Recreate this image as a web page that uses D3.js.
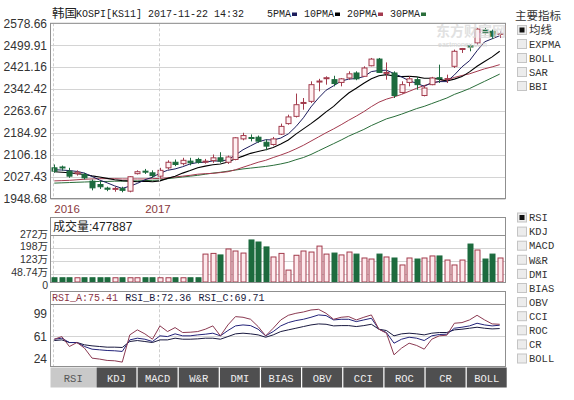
<!DOCTYPE html>
<html lang="zh">
<head>
<meta charset="UTF-8">
<title>韩国KOSPI[KS11]</title>
<script src="https://d3js.org/d3.v7.min.js"></script>
<style>
  body { margin: 0; background: #fff; }
  svg text { font-family: "Liberation Sans", Arial, "Noto Sans CJK SC", sans-serif; }
  .mono { font-family: "Liberation Mono", "DejaVu Sans Mono", "Noto Sans CJK SC", monospace; }
  .cjk { font-family: "Noto Sans CJK SC", sans-serif; }
</style>
</head>
<body>
<svg id="chart" width="574" height="400"></svg>
<script>
// weekly candles
const candleOpen  = [2059,2062,2047,2038,2035,2011,1999,1986,1982,1984,1975,2038,2047,2041,2029,2059,2079,2074,2083,2089,
                     2081,2085,2095,2079,2089,2163,2168,2169,2151,2143,2180,2218,2244,2291,2298,2368,2380,2376,2366,2382,
                     2400,2388,2426,2450,2399,2400,2330,2366,2376,2319,2358,2383,2377,2424,2485,2497,2508,2556,2550,2539];
const candleHigh  = [2071,2067,2059,2050,2041,2017,2011,1991,1991,1991,2029,2050,2055,2050,2059,2086,2089,2095,2095,2095,
                     2091,2107,2115,2103,2169,2185,2179,2175,2161,2170,2218,2250,2326,2310,2370,2379,2388,2390,2382,2406,
                     2406,2424,2454,2454,2438,2406,2370,2388,2386,2355,2386,2430,2394,2484,2490,2502,2562,2562,2556,2550];
const candleLow   = [2041,2049,2023,2031,2017,1978,1983,1975,1973,1971,1971,2035,2037,2023,2023,2053,2065,2068,2068,2074,
                     2074,2077,2077,2073,2086,2158,2154,2149,2122,2139,2177,2214,2240,2268,2292,2334,2358,2352,2352,2376,
                     2374,2386,2424,2400,2376,2310,2326,2352,2340,2316,2356,2364,2364,2418,2472,2478,2502,2538,2522,2526];
const candleClose = [2047,2060,2029,2043,2023,1987,1991,1982,1985,1978,2027,2045,2045,2031,2050,2079,2071,2086,2077,2079,
                     2083,2095,2083,2098,2167,2175,2165,2155,2137,2163,2208,2242,2286,2294,2358,2371,2383,2362,2379,2397,
                     2379,2418,2450,2402,2402,2319,2358,2379,2358,2346,2382,2381,2380,2478,2488,2494,2558,2544,2532,2542];

const ma5  = [2052,2051,2049,2046,2040,2028,2015,2005,1994,1985,1993,2003,2016,2025,2040,2050,2055,2063,2073,2078,
              2079,2084,2083,2088,2105,2124,2138,2152,2160,2159,2166,2181,2207,2239,2278,2310,2338,2354,2371,2378,
              2380,2387,2405,2409,2410,2398,2386,2372,2363,2352,2365,2369,2369,2393,2422,2444,2480,2512,2523,2534];
const ma10 = [2045,2043,2041,2038,2035,2030,2026,2021,2016,2013,2011,2009,2011,2009,2012,2021,2029,2040,2049,2059,
              2065,2070,2073,2080,2092,2101,2111,2118,2124,2132,2145,2159,2180,2199,2218,2238,2260,2280,2305,2328,
              2345,2363,2379,2390,2394,2389,2387,2388,2386,2381,2381,2378,2371,2378,2387,2404,2424,2441,2458,2478];
const ma20 = [2012,2013,2014,2016,2018,2019,2020,2020,2020,2019,2019,2019,2019,2020,2021,2023,2026,2029,2032,2036,
              2038,2039,2042,2045,2052,2061,2070,2079,2086,2096,2105,2115,2127,2140,2155,2170,2185,2199,2214,2230,
              2245,2261,2279,2295,2306,2314,2323,2334,2345,2355,2363,2370,2375,2384,2391,2397,2406,2415,2422,2430];
const ma30 = [2004,2005,2006,2007,2008,2009,2010,2010,2011,2011,2012,2012,2013,2014,2015,2020,2023,2026,2029,2032,
              2036,2040,2043,2047,2051,2055,2058,2061,2064,2068,2073,2079,2088,2096,2107,2120,2133,2146,2159,2173,
              2185,2197,2211,2223,2235,2243,2252,2262,2272,2280,2290,2300,2310,2323,2333,2344,2357,2370,2383,2396];

// volume, 万
const volume = [25,25,25,25,25,25,25,25,25,25,25,25,25,25,25,25,25,25,25,25,
                164,168,159,194,182,170,247,235,206,147,168,70,157,182,176,211,164,170,159,176,
                164,141,135,164,147,141,100,141,135,141,153,153,129,100,129,223,188,135,164,141];

const rsiA = [56.0,60.4,43.9,50.5,41.2,24.6,23.0,20.8,20.2,18.0,63.2,71.5,64.9,56.0,78.1,68.7,75.3,67.1,67.6,68.7,
              72.6,78.1,61.6,79.7,93.5,92.4,89.1,77.0,61.6,74.2,88.0,95.7,99.0,101.2,104.5,105.6,99.0,89.1,92.4,93.5,
              88.0,92.4,96.3,72.6,66.0,30.1,41.2,49.4,45.6,39.5,56.0,61.6,62.7,82.5,83.6,88.0,95.7,88.0,81.4,80.8];
const rsiB = [56.0,57.7,50.5,50.5,43.9,39.5,38.4,37.3,36.8,35.7,54.9,57.7,56.0,52.2,61.6,60.4,64.9,61.6,61.6,63.2,
              64.3,66.0,61.6,70.4,78.1,79.7,78.6,72.6,61.6,68.7,78.1,83.6,86.9,89.1,92.4,96.3,95.2,88.0,89.1,89.1,
              85.2,88.0,90.8,72.6,67.1,49.4,56.0,59.3,57.7,53.8,61.6,63.8,64.3,74.2,75.9,78.1,82.5,79.7,78.1,79.2];
const rsiC = [53.8,54.9,50.5,50.5,46.7,45.0,43.9,42.8,42.8,42.3,52.2,53.8,52.2,50.5,54.9,54.9,57.7,56.0,56.0,56.6,
              57.7,57.7,56.0,60.4,64.9,66.0,64.9,63.2,59.3,63.2,68.7,71.5,74.2,77.0,79.7,81.4,80.8,78.1,78.6,78.6,
              77.0,78.6,80.8,72.6,70.4,61.6,64.9,66.0,64.9,63.2,66.0,67.1,67.1,71.5,72.6,74.2,75.9,74.2,73.1,73.7];

const priceTicks = [1948.68,2027.43,2106.18,2184.92,2263.67,2342.42,2421.16,2499.91,2578.66];
const volTicks = [0,48.74,123.15,197.56,271.96];
const volTickLabels = ["0","48.74万","123万","198万","272万"];
const rsiTicks = [24,61,99];
const yearLabels = ["2016","2017"];
const yearIndex = [0,14];
const maNames = ["5PMA","10PMA","20PMA","30PMA"];
const maColors = ["#1c1c5c","#000000","#a33a4e","#2a6e3a"];
const mainIndicators = ["均线","EXPMA","BOLL","SAR","BBI"];
const subIndicators = ["RSI","KDJ","MACD","W&R","DMI","BIAS","OBV","CCI","ROC","CR","BOLL"];
const titleText = "KOSPI[KS11] 2017-11-22 14:32";
const volHeader = "成交量:477887";
const rsiHeader = [["RSI_A:75.41","#8b3444"],["RSI_B:72.36","#1a1a40"],["RSI_C:69.71","#1a1a40"]];

const UP_FILL = "#fff0f2", UP_STROKE = "#a23b4c", DOWN = "#1d6b3e";
const GRID = "#d4d4d4", FRAME = "#8f8f8f";

const svg = d3.select("#chart");
const L = 50.5, R = 505.5;

const x = d3.scalePoint().domain(d3.range(candleOpen.length)).range([54.3, 499.7]);
const yP = d3.scaleLinear().domain([priceTicks[0], priceTicks[priceTicks.length-1]]).range([198.5, 23.3]);
const yV = d3.scaleLinear().domain([0, volTicks[volTicks.length-1]]).range([282, 235.7]);
const yR = d3.scaleLinear().domain([24, 99]).range([358.5, 313.3]);

// ---------- title + legend ----------
svg.append("text").attr("class","cjk").attr("x",52).attr("y",18).attr("font-size",12.5).attr("fill","#222").text("韩国");
svg.append("text").attr("class","mono").attr("x",76).attr("y",17).attr("font-size",10).attr("fill","#222").text(titleText);

let cx = 267;
maNames.forEach((n,k) => {
  svg.append("text").attr("class","mono").attr("x",cx).attr("y",17).attr("font-size",10).attr("fill","#222").text(n);
  cx += n.length*6 + 1;
  svg.append("rect").attr("x",cx).attr("y",12.5).attr("width",5).attr("height",3.5).attr("fill",maColors[k]);
  cx += 12;
});

// ---------- panel helper ----------
function frame(top, bottom) {
  svg.append("rect").attr("x",L).attr("y",top).attr("width",R-L).attr("height",bottom-top)
    .attr("fill","none").attr("stroke",FRAME);
}
function dashed(top, bottom) {
  yearIndex.forEach(i => {
    svg.append("line").attr("x1",Math.round(x(i))-0.5).attr("x2",Math.round(x(i))-0.5)
      .attr("y1",top).attr("y2",bottom).attr("stroke","#cfcfcf").attr("stroke-dasharray","3,2");
  });
}

// ---------- main price panel ----------
const mainG = svg.append("g");
priceTicks.forEach(t => {
  mainG.append("line").attr("x1",L).attr("x2",R).attr("y1",Math.round(yP(t))+0.5).attr("y2",Math.round(yP(t))+0.5)
    .attr("stroke",GRID);
  mainG.append("text").attr("x",47).attr("y",yP(t)).attr("dy","0.36em").attr("text-anchor","end")
    .attr("font-size",12).attr("fill","#333").text(t.toFixed(2));
});
dashed(23.3, 198.5);
frame(23.3, 198.5);

yearLabels.forEach((t,k) => {
  svg.append("text").attr("x", k === 0 ? x(yearIndex[k]) : x(yearIndex[k]) - 2)
    .attr("y",213).attr("text-anchor", k === 0 ? "start" : "middle")
    .attr("font-size",11.5).attr("fill","#8a3a3e").text(t);
});

// watermark
svg.append("text").attr("class","cjk").attr("x",436).attr("y",36).attr("font-size",14).attr("font-weight","bold")
  .attr("fill","#dadada").attr("opacity",0.8).text("东方财富网");
svg.append("text").attr("x",438).attr("y",47).attr("font-size",7).attr("fill","#d6d6d6").text("eastmoney.com");

// moving averages
const maLine = d3.line().x((d,i) => x(i)).y(d => yP(d));
[ma30, ma20, ma10, ma5].forEach((s,k) => {
  mainG.append("path").datum(s).attr("d",maLine).attr("fill","none")
    .attr("stroke",maColors[3-k]).attr("stroke-width",k === 2 ? 1.1 : 1);
});

// candles
const up = i => candleClose[i] >= candleOpen[i];
const candles = mainG.selectAll(".candle").data(d3.range(candleOpen.length)).enter().append("g");
candles.append("line")
  .attr("x1",i => Math.round(x(i))+0.5).attr("x2",i => Math.round(x(i))+0.5)
  .attr("y1",i => yP(candleHigh[i])).attr("y2",i => yP(candleLow[i]))
  .attr("stroke",i => up(i) ? UP_STROKE : DOWN);
candles.append("rect")
  .attr("x",i => Math.round(x(i))-2)
  .attr("y",i => yP(Math.max(candleOpen[i],candleClose[i])))
  .attr("width",5)
  .attr("height",i => Math.max(1, yP(Math.min(candleOpen[i],candleClose[i])) - yP(Math.max(candleOpen[i],candleClose[i]))))
  .attr("fill",i => up(i) ? UP_FILL : DOWN)
  .attr("stroke",i => up(i) ? UP_STROKE : DOWN);

// ---------- volume panel ----------
volTicks.forEach((t,k) => {
  if (k > 0 && k < volTicks.length-1)
    svg.append("line").attr("x1",L).attr("x2",R).attr("y1",Math.round(yV(t))+0.5).attr("y2",Math.round(yV(t))+0.5).attr("stroke",GRID);
  // labels sit slightly above their lines, the zero label slightly below
  svg.append("text").attr("x",48).attr("y",yV(t) + (k === 0 ? 3 : -1.5)).attr("dy","0.34em").attr("text-anchor","end")
    .attr("font-size",10.5).attr("fill","#333").text(volTickLabels[k]);
});
dashed(235.7, 282.5);
svg.selectAll(".vbar").data(volume).enter().append("rect")
  .attr("x",(d,i) => Math.round(x(i))-2)
  .attr("y",d => yV(d))
  .attr("width",5)
  .attr("height",d => yV(0) - yV(d))
  .attr("fill",(d,i) => up(i) ? "#fde9ec" : DOWN)
  .attr("stroke",(d,i) => up(i) ? UP_STROKE : DOWN);
frame(217.5, 282.5);
svg.append("line").attr("x1",L).attr("x2",R).attr("y1",235.5).attr("y2",235.5).attr("stroke",FRAME);
svg.append("text").attr("x",53).attr("y",231).attr("font-size",12).attr("fill","#222").text(volHeader);

// ---------- RSI panel ----------
svg.append("line").attr("x1",L).attr("x2",R).attr("y1",Math.round(yR(61))+0.5).attr("y2",Math.round(yR(61))+0.5).attr("stroke",GRID);
rsiTicks.forEach(t => {
  svg.append("text").attr("x",47).attr("y",yR(t)).attr("dy","0.36em").attr("text-anchor","end")
    .attr("font-size",12).attr("fill","#333").text(t);
});
dashed(304.3, 366.5);
const rsiLine = d3.line().x((d,i) => x(i)).y(d => yR(d));
[[rsiC,"#1a1a40"],[rsiB,"#23237a"],[rsiA,"#8b3a52"]].forEach(([s,c]) => {
  svg.append("path").datum(s).attr("d",rsiLine).attr("fill","none").attr("stroke",c).attr("stroke-width",1);
});
frame(291.5, 366.5);
svg.append("line").attr("x1",L).attr("x2",R).attr("y1",304.5).attr("y2",304.5).attr("stroke",FRAME);
let hx = 52;
rsiHeader.forEach(([t,c]) => {
  svg.append("text").attr("class","mono").attr("x",hx).attr("y",301).attr("font-size",10).attr("fill",c).text(t);
  hx += (t.length+1)*6.1;
});

// tabs: first (active) tab is wider, the rest share the remaining width
const tabX = d3.scaleBand().domain(subIndicators.slice(1)).range([96.5, R + 1.2]).paddingInner(0.03);
subIndicators.forEach((n,k) => {
  const x0 = k === 0 ? L : tabX(n);
  const w = k === 0 ? 45.5 : tabX.bandwidth();
  svg.append("rect").attr("x",x0).attr("y",367.5).attr("width",w).attr("height",20)
    .attr("fill",k === 0 ? "#c9c9c9" : "#4f4f50");
  svg.append("text").attr("class","mono").attr("x",x0 + w/2).attr("y",381.5).attr("text-anchor","middle")
    .attr("font-size",10.5).attr("fill",k === 0 ? "#555" : "#f0f0f0").text(n);
});

// ---------- right side checkboxes ----------
svg.append("text").attr("class","cjk").attr("x",515).attr("y",19.5).attr("font-size",11.5).attr("fill","#333").text("主要指标");
function checkList(items, y0, step) {
  items.forEach((n,k) => {
    const cy = y0 + k*step;
    svg.append("rect").attr("x",517.5).attr("y",cy-4.5).attr("width",9).attr("height",9)
      .attr("fill","#ececec").attr("stroke","#c4c4c4");
    if (k === 0)
      svg.append("rect").attr("x",519.5).attr("y",cy-2.5).attr("width",5).attr("height",5).attr("fill","#111");
    const cj = /[\u4e00-\u9fff]/.test(n);
    svg.append("text").attr("class",cj ? "cjk" : "mono").attr("x",529).attr("y",cy).attr("dy","0.36em")
      .attr("font-size",cj ? 11.5 : 10.5).attr("fill","#333").text(n);
  });
}
checkList(mainIndicators, 30, 14);
checkList(subIndicators, 217.5, 14.1);
</script>
</body>
</html>
